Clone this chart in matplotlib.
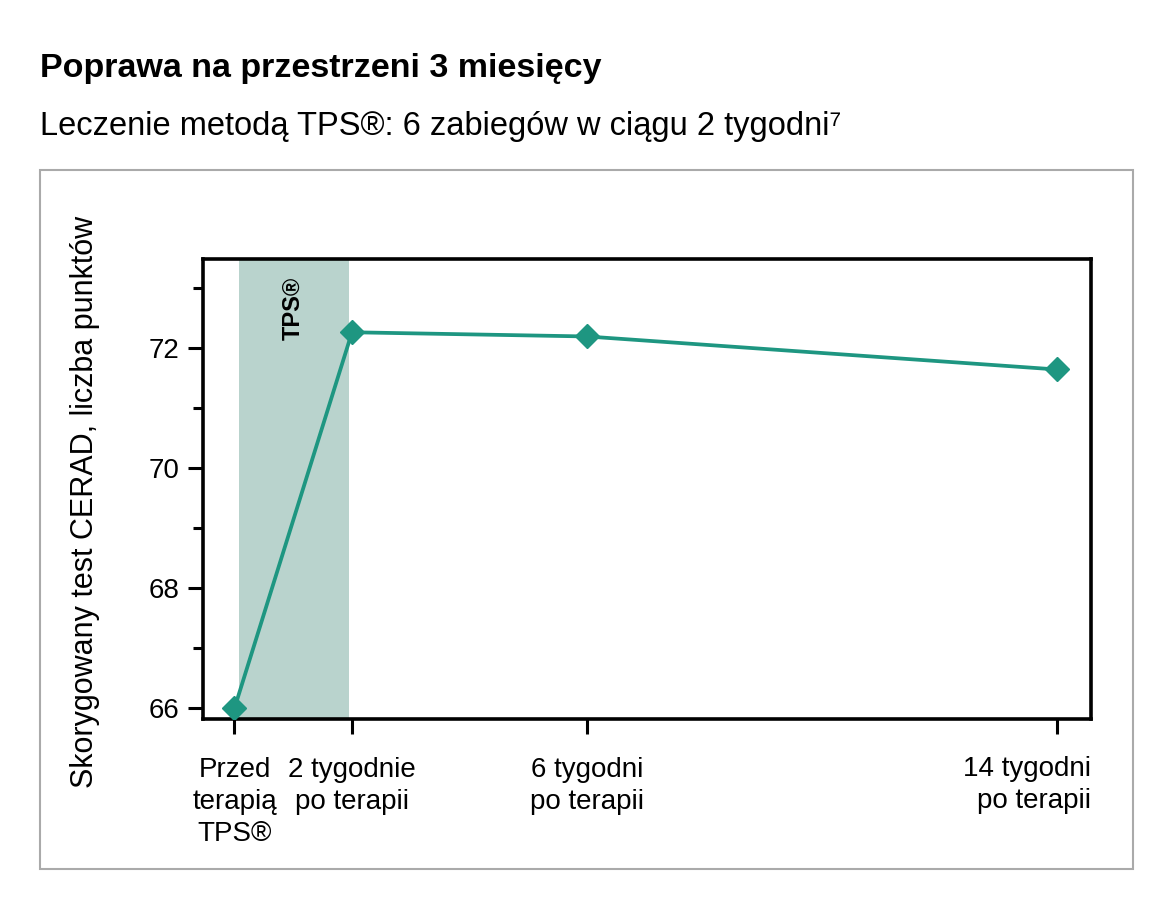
import matplotlib
matplotlib.use("Agg")
import matplotlib.pyplot as plt
from matplotlib.patches import Rectangle
from matplotlib.ticker import MultipleLocator

plt.rcParams['font.family'] = ['Liberation Sans', 'DejaVu Sans']

weeks = [0, 2, 6, 14]
scores = [66.0, 72.26, 72.19, 71.64]
tick_labels = ["Przed\nterapią\nTPS\u00ae", "2 tygodnie\npo terapii", "6 tygodni\npo terapii", "14 tygodni\npo terapii"]
yticks = [66, 68, 70, 72]
tps_span = (0.08, 1.95)

title = "Poprawa na przestrzeni 3 miesięcy"
subtitle = "Leczenie metodą TPS\u00ae: 6 zabiegów w ciągu 2 tygodni\u2077"
ylabel = "Skorygowany test CERAD, liczba punktów"

teal = "#1e9681"
shade = "#b9d3cd"

fig = plt.figure(figsize=(11.75, 9.13), dpi=100)
ax = fig.add_axes([203/1175, 1-719/913, (1091-203)/1175, (719-259)/913])

# outer frame
fig.add_artist(Rectangle((40/1175, 1-869/913), (1133-40)/1175, (869-170)/913,
                         transform=fig.transFigure, fill=False, edgecolor="#aaaaaa", linewidth=1.5))

fig.text(40/1175, 1-68/913, title, fontsize=24.5, fontweight='bold', ha='left', va='center')
fig.text(40/1175, 1-126/913, subtitle, fontsize=23.5, ha='left', va='center')

ax.axvspan(tps_span[0], tps_span[1], color=shade, lw=0, zorder=0)
ax.text(1.0, 73.18, "TPS\u00ae", rotation=90, fontsize=17,
        fontweight='bold', ha='center', va='top')

ax.plot(weeks, scores, color=teal, lw=2.7, marker='D', ms=12.5, mec=teal, mfc=teal, zorder=3)

xmin, xmax = -0.536, 14.58
ax.set_xlim(xmin, xmax)
ax.set_ylim(65.82, 73.48)
ax.set_yticks(yticks)
ax.yaxis.set_minor_locator(MultipleLocator(1))
ax.set_xticks(weeks)
ax.set_xticklabels(tick_labels[:-1] + [""], fontsize=20, linespacing=1.32)
for lbl in ax.get_xticklabels():
    lbl.set_multialignment('center')
# last label is right-aligned with the axes edge
ax.text(xmax, -0.08, tick_labels[-1], transform=ax.get_xaxis_transform(),
        ha='right', va='top', fontsize=20, linespacing=1.32, multialignment='right')

ax.tick_params(axis='y', labelsize=20, width=2.2, length=11, direction='out', pad=6)
ax.tick_params(axis='y', which='minor', width=2.2, length=7)
ax.tick_params(axis='x', labelsize=20, width=2.2, length=11, direction='out', pad=16)
for s in ax.spines.values():
    s.set_linewidth(2.6)
    s.set_color('black')

fig.text(85/1175, 1-502/913, ylabel, rotation=90, fontsize=22, ha='center', va='center')

fig.savefig("out.png", dpi=100)
